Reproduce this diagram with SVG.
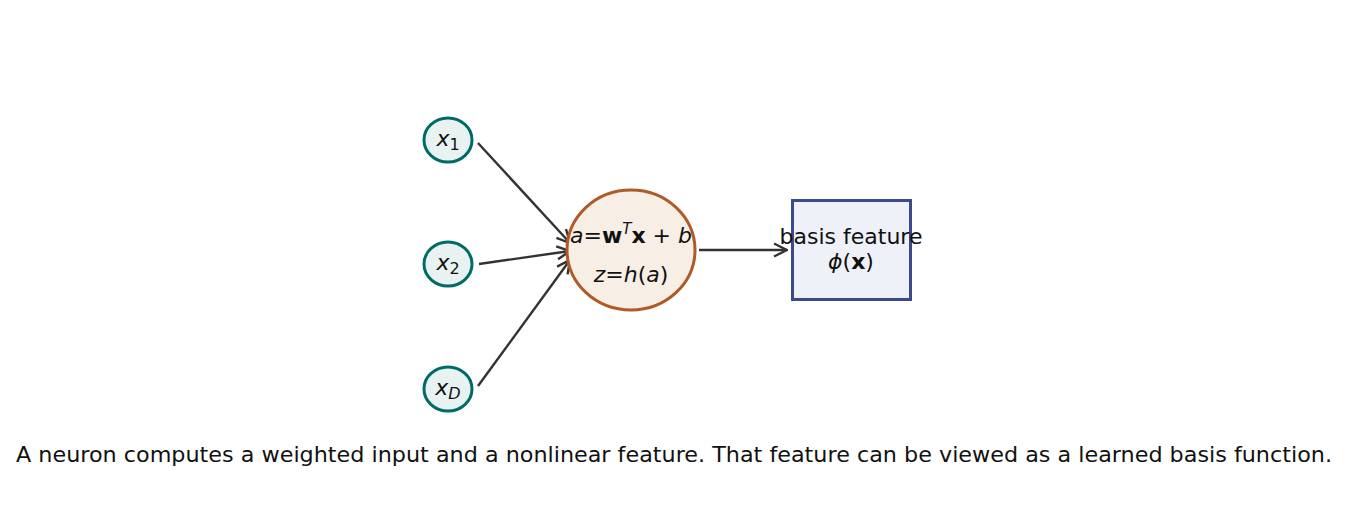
<svg xmlns="http://www.w3.org/2000/svg" width="1348" height="530" viewBox="0 0 1348 530">
<style>
text{font-family:"DejaVu Sans",sans-serif;fill:#111}
.in{fill:#e8f3f1;stroke:#006b66;stroke-width:3}
.m{font-size:22px;text-anchor:middle}
.c{stroke:#333;stroke-width:2.4;fill:none;marker-end:url(#a)}
</style>
<defs><marker id="a" viewBox="0 0 16 16" refX="15" refY="8" markerWidth="16" markerHeight="16" markerUnits="userSpaceOnUse" orient="auto"><path d="M2 1.5L15 8L2 14.5" fill="none" stroke="#333" stroke-width="2.4"/></marker></defs>
<rect width="1348" height="530" fill="#fff"/>
<g id="connectors">
<line class="c" x1="478" y1="143" x2="570" y2="243"/>
<line class="c" x1="479" y1="264" x2="570" y2="251"/>
<line class="c" x1="478" y1="386" x2="570" y2="260"/>
<line class="c" x1="699" y1="250" x2="787" y2="250"/>
</g>
<g id="x1"><ellipse class="in" cx="448" cy="140" rx="24" ry="22"/><text class="m" x="448" y="146"><tspan font-style="italic">x</tspan><tspan font-size="16" dy="4">1</tspan></text></g>
<g id="x2"><ellipse class="in" cx="448" cy="264" rx="24" ry="22"/><text class="m" x="448" y="270"><tspan font-style="italic">x</tspan><tspan font-size="16" dy="4">2</tspan></text></g>
<g id="xD"><ellipse class="in" cx="448" cy="389" rx="24" ry="22"/><text class="m" x="448" y="395"><tspan font-style="italic">x</tspan><tspan font-size="16" dy="4" font-style="italic">D</tspan></text></g>
<g id="neuron"><ellipse cx="631" cy="250" rx="64" ry="60" fill="#f7eee5" stroke="#b05a28" stroke-width="3"/>
<text class="m" x="631" y="243"><tspan font-style="italic">a</tspan>=<tspan font-weight="bold">w</tspan><tspan font-size="15" dy="-9" font-style="italic">T</tspan><tspan dy="9" font-weight="bold">x</tspan> + <tspan font-style="italic">b</tspan></text>
<text class="m" x="631" y="282"><tspan font-style="italic">z</tspan>=<tspan font-style="italic">h</tspan>(<tspan font-style="italic">a</tspan>)</text></g>
<g id="basis"><rect x="792.5" y="200.5" width="118" height="99" fill="#eef1f8" stroke="#3a4a8a" stroke-width="3"/>
<text class="m" x="851" y="244">basis feature</text>
<text class="m" x="851" y="269"><tspan font-style="italic">ϕ</tspan>(<tspan font-weight="bold">x</tspan>)</text></g>
<text x="674" y="462" font-size="22" text-anchor="middle" textLength="1316" lengthAdjust="spacingAndGlyphs">A neuron computes a weighted input and a nonlinear feature. That feature can be viewed as a learned basis function.</text>
</svg>
